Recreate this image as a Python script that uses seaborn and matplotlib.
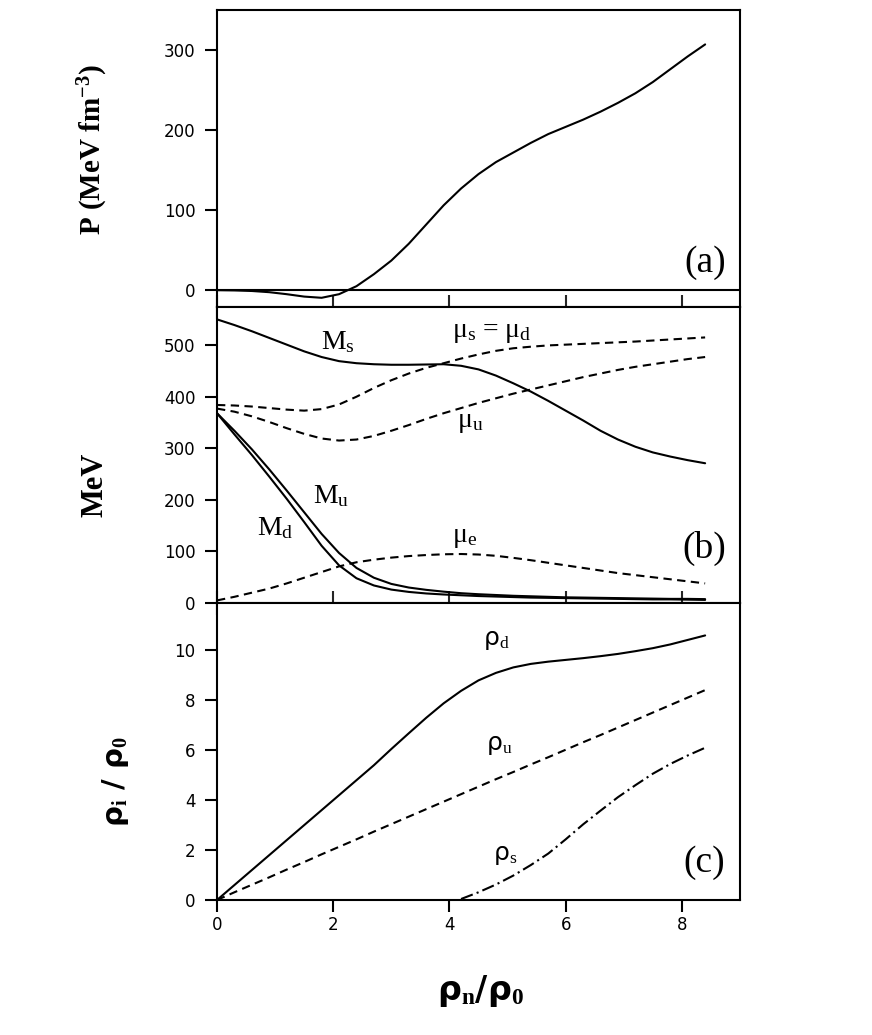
import numpy as np
import pandas as pd
import matplotlib
matplotlib.use("Agg")
import matplotlib.pyplot as plt
import seaborn as sns

# density rho_n / rho_0 (common grid for all curves)
x = [0.0, 0.3, 0.6, 0.9, 1.2, 1.5, 1.8, 2.1, 2.4, 2.7, 3.0, 3.3, 3.6, 3.9, 4.2,
     4.5, 4.8, 5.1, 5.4, 5.7, 6.0, 6.3, 6.6, 6.9, 7.2, 7.5, 7.8, 8.1, 8.4]

# (a) pressure, MeV fm^-3
pressure = [0, -0.3, -1, -2.5, -5, -8, -9.5, -5, 5, 20, 37, 58, 82, 106, 127,
            145, 160, 172, 184, 195, 204, 213, 223, 234, 246, 260, 276, 292, 307]

# (b) masses and chemical potentials, MeV
m_s = [550, 539, 527, 514, 501, 488, 477, 469, 465, 463, 462, 462, 462.5, 463, 460,
       453, 441, 426, 410, 392, 373, 354, 334, 317, 303, 292, 284, 277, 271]
mu_sd = [384, 383, 381, 378, 375, 373, 376, 385, 400, 417, 432, 445, 456, 465, 474,
         482, 489, 494, 497, 499.5, 501, 502.5, 504, 505.5, 507, 509, 511, 513, 515]
mu_u = [377, 371, 362, 351, 339, 328, 319, 315, 317, 324, 334, 345, 357, 368, 378,
        388, 397, 406, 414, 422, 430, 438, 445, 452, 458, 463, 468, 473, 477]
m_u = [368, 334, 298, 259, 218, 176, 134, 97, 68, 49, 37, 30, 25.5, 22, 19,
       17, 15.5, 14, 13, 12, 11, 10.5, 10, 9.5, 9, 8.5, 8, 8, 7.5]
m_d = [368, 327, 287, 245, 202, 157, 111, 73, 48, 34, 26, 21.5, 18.5, 16.5, 15,
       13.5, 12.5, 11.5, 10.5, 10, 9.5, 9, 8.5, 8, 7.5, 7, 7, 6.5, 6]
mu_e = [5, 12, 20, 28, 38, 49, 60, 71, 79, 84, 88, 91, 93, 94.5, 95,
        94, 91.5, 87.5, 83, 78, 73, 68, 63, 58, 54, 50, 46, 42, 38]

# (c) quark densities rho_i / rho_0
rho_d = [0, 0.6, 1.2, 1.8, 2.4, 3.0, 3.6, 4.2, 4.8, 5.4, 6.05, 6.68, 7.3, 7.88, 8.38,
         8.8, 9.1, 9.32, 9.46, 9.55, 9.62, 9.69, 9.77, 9.86, 9.97, 10.09, 10.24, 10.42, 10.6]
rho_u = [0, 0.31, 0.61, 0.91, 1.22, 1.52, 1.83, 2.13, 2.43, 2.74, 3.04, 3.34, 3.64, 3.94, 4.24,
         4.54, 4.84, 5.13, 5.43, 5.72, 6.02, 6.32, 6.61, 6.91, 7.21, 7.51, 7.81, 8.11, 8.41]
rho_s = [np.nan] * 14 + [0.04, 0.31, 0.62, 0.98, 1.4, 1.86, 2.43, 3.03, 3.58, 4.12,
                         4.6, 5.06, 5.45, 5.79, 6.1]

df = pd.DataFrame({"x": x, "P": pressure, "Ms": m_s, "mu_sd": mu_sd, "mu_u": mu_u,
                   "Mu": m_u, "Md": m_d, "mu_e": mu_e,
                   "rho_d": rho_d, "rho_u": rho_u, "rho_s": rho_s})

sns.set_theme(style="ticks")
plt.rcParams["font.family"] = ["DejaVu Sans"]
plt.rcParams["text.color"] = "black"
plt.rcParams["axes.labelcolor"] = "black"
plt.rcParams["mathtext.fontset"] = "custom"
plt.rcParams["mathtext.rm"] = "Liberation Serif"
plt.rcParams["mathtext.it"] = "Liberation Serif:italic"
plt.rcParams["mathtext.bf"] = "Liberation Serif:bold"

SERIF = ["Liberation Serif", "DejaVu Serif"]
SANS = ["DejaVu Sans"]
solid = "-"
dashed = (0, (4, 2.6))
dashdot = (0, (6, 2, 1, 2))

fig = plt.figure(figsize=(8.72, 10.35), dpi=100)
W, H = 872, 1035
left, right = 217, 740
def box(top, bottom):
    return [left / W, 1 - bottom / H, (right - left) / W, (bottom - top) / H]

ax_a = fig.add_axes(box(10, 307))
ax_b = fig.add_axes(box(307, 603))
ax_c = fig.add_axes(box(603, 900))

kw = dict(color="black", linewidth=1.5)

# (a)
sns.lineplot(data=df, x="x", y="P", ax=ax_a, linestyle=solid, **kw)
ax_a.axhline(0, color="black", linewidth=1.5)
ax_a.set_ylim(-21, 350)
ax_a.set_yticks([0, 100, 200, 300])

# (b)
sns.lineplot(data=df, x="x", y="Ms", ax=ax_b, linestyle=solid, **kw)
sns.lineplot(data=df, x="x", y="Mu", ax=ax_b, linestyle=solid, **kw)
sns.lineplot(data=df, x="x", y="Md", ax=ax_b, linestyle=solid, **kw)
sns.lineplot(data=df, x="x", y="mu_sd", ax=ax_b, linestyle=dashed, **kw)
sns.lineplot(data=df, x="x", y="mu_u", ax=ax_b, linestyle=dashed, **kw)
sns.lineplot(data=df, x="x", y="mu_e", ax=ax_b, linestyle=dashed, **kw)
ax_b.set_ylim(0, 574)
ax_b.set_yticks([0, 100, 200, 300, 400, 500])

# (c)
sns.lineplot(data=df, x="x", y="rho_d", ax=ax_c, linestyle=solid, **kw)
sns.lineplot(data=df, x="x", y="rho_u", ax=ax_c, linestyle=dashed, **kw)
sns.lineplot(data=df, x="x", y="rho_s", ax=ax_c, linestyle=dashdot, **kw)
ax_c.set_ylim(0, 11.9)
ax_c.set_yticks([0, 2, 4, 6, 8, 10])

for ax in (ax_a, ax_b, ax_c):
    ax.set_xlim(0, 9)
    ax.set_xticks([0, 2, 4, 6, 8])
    for s in ax.spines.values():
        s.set_linewidth(1.5)
        s.set_color("black")
    ax.tick_params(axis="y", direction="out", length=8.5, width=1.5,
                   labelsize=12, pad=7, colors="black", right=False)
    ax.set_xlabel("")
    ax.set_ylabel("")

ax_a.tick_params(axis="x", direction="inout", length=17, width=1.5, top=False, labelbottom=False)
ax_b.tick_params(axis="x", direction="inout", length=17, width=1.5, top=False, labelbottom=False)
ax_c.tick_params(axis="x", direction="out", length=8.5, width=1.5, top=False,
                 labelsize=12, pad=3, colors="black")

# axis labels
ax_a.set_ylabel("P (MeV fm$^{\\mathbf{-3}}$)", fontfamily=SERIF, fontweight="bold", fontsize=21)
ax_a.yaxis.set_label_coords(-0.205, 0.53)
ax_b.set_ylabel("MeV", fontfamily=SERIF, fontweight="bold", fontsize=22)
ax_b.yaxis.set_label_coords(-0.205, 0.40)
ax_c.set_ylabel("ρ$_{\\mathbf{i}}$ / ρ$_{\\mathbf{0}}$", fontfamily=SANS, fontweight="bold", fontsize=21)
ax_c.yaxis.set_label_coords(-0.165, 0.40)
ax_c.set_xlabel("ρ$_{\\mathbf{n}}$/ρ$_{\\mathbf{0}}$", fontfamily=SANS, fontweight="bold", fontsize=24)
ax_c.xaxis.set_label_coords(0.503, -0.245)

# curve labels
txt = dict(fontfamily=SERIF, fontsize=20, va="baseline", ha="left")
rtxt = dict(fontfamily=SANS, fontsize=18, va="baseline", ha="left")
ax_b.text(1.79, 493, "M$_\\mathrm{s}$", **txt)
ax_b.text(4.05, 516, "μ$_\\mathrm{s}$ = μ$_\\mathrm{d}$", **txt)
ax_b.text(4.13, 342, "μ$_\\mathrm{u}$", **txt)
ax_b.text(1.66, 193, "M$_\\mathrm{u}$", **txt)
ax_b.text(0.69, 132, "M$_\\mathrm{d}$", **txt)
ax_b.text(4.04, 119, "μ$_\\mathrm{e}$", **txt)
ax_c.text(4.57, 10.2, "ρ$_\\mathrm{d}$", **rtxt)
ax_c.text(4.63, 6.0, "ρ$_\\mathrm{u}$", **rtxt)
ax_c.text(4.75, 1.6, "ρ$_\\mathrm{s}$", **rtxt)

pan = dict(fontfamily=SERIF, fontsize=27, va="baseline", ha="right")
ax_a.text(8.76, 23, "(a)", **pan)
ax_b.text(8.76, 87, "(b)", **pan)
ax_c.text(8.74, 1.13, "(c)", **pan)

fig.savefig("out.png", dpi=100)
